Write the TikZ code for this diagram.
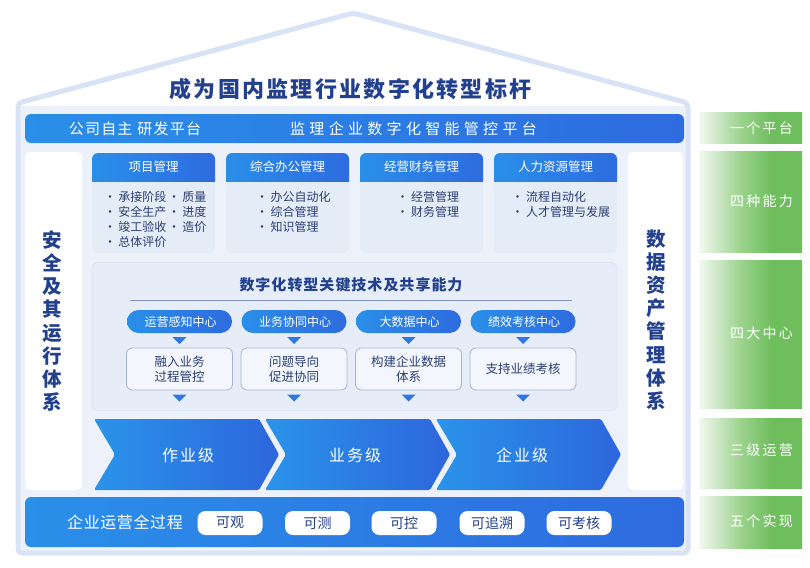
\documentclass[tikz,border=0pt]{standalone}
\usepackage{fontspec}
\setmainfont{Noto Sans CJK SC}
\usetikzlibrary{calc}
\definecolor{navy}{HTML}{22408E}
\definecolor{itemc}{HTML}{2C3E73}
\definecolor{bL}{HTML}{2A8FE9}
\definecolor{bR}{HTML}{2E6BDF}
\definecolor{chL}{HTML}{2A93EA}
\definecolor{chR}{HTML}{2D66DC}
\definecolor{outl}{HTML}{D8E4F5}
\definecolor{bodybg}{HTML}{EDF2FA}
\definecolor{panelbg}{HTML}{E6EDF8}
\definecolor{panelln}{HTML}{DCE5F3}
\definecolor{cardbg}{HTML}{E4ECF8}
\definecolor{boxbg}{HTML}{F3F7FD}
\definecolor{boxln}{HTML}{A3B3CF}
\definecolor{tric}{HTML}{2F78E3}
\definecolor{sepc}{HTML}{7F93C0}
\definecolor{gA}{HTML}{F2F9F0}
\definecolor{gB}{HTML}{9DD38F}
\definecolor{gC}{HTML}{6FBE5E}
\pgfdeclarehorizontalshading{greenfade}{100bp}{color(0bp)=(gA); color(25bp)=(gA); color(45bp)=(gB); color(60bp)=(gC); color(100bp)=(gC)}
\makeatletter
\newcommand\lspc[2]{\def\lspc@sep{\kern#1}\lspc@go#2\relax}
\def\lspc@go#1{#1\lspc@next}
\def\lspc@next#1{\ifx\relax#1\else\lspc@sep#1\expandafter\lspc@next\fi}
\makeatother
\newcommand\fsz[1]{\fontsize{#1}{#1}\selectfont}
\tikzset{
  bluebar/.style={rounded corners=6pt, left color=bL, right color=bR, draw=none},
  wtxt/.style={text=white},
  ntxt/.style={text=navy},
  itm/.style={text=itemc, font=\fsz{12}, anchor=west},
  hdtxt/.style={text=white, font=\fsz{12.5}},
  whitepanel/.style={fill=white, rounded corners=5pt},
  vtxt/.style={text=navy, align=center, font=\fontsize{19.5}{23.1}\selectfont\bfseries},
  pillc/.style={left color=bL, right color=bR, rounded corners=11.5pt},
  cbox/.style={fill=boxbg, draw=boxln, line width=0.8pt, rounded corners=6pt},
  tri/.style={fill=tric},
  chev/.style={left color=chL, right color=chR, rounded corners=1.5pt},
  wpill/.style={fill=white, rounded corners=8pt, text=navy, font=\fsz{14}},
  gbox/.style={shading=greenfade, minimum width=103pt},
}
\newcommand\mkcard[3]{%
  \node[fill=cardbg, rounded corners=6pt, minimum width=123pt, minimum height=100pt] (#2) at (#1+61.5,203) {};
  \begin{scope}
    \clip[rounded corners=6pt] (#1,153) rectangle ++(123,100);
    \path[left color=bL, right color=bR] (#1,153) rectangle ++(123,28);
  \end{scope}
  \node[hdtxt] (#2h) at (#1+61.5,167) {#3};
}
\begin{document}
\begin{tikzpicture}[x=1pt,y=-1pt, every node/.style={inner sep=0pt, outer sep=0pt}]
\useasboundingbox (0,0) rectangle (810,567);
\fill[white] (0,0) rectangle (810,567);
% house
\fill[white] (18,553) -- (18,103) -- (353,13) -- (688,103) -- (688,553) -- cycle;
\fill[bodybg] (20,106) rectangle (686,551);
\draw[outl, line width=5pt, line join=round, rounded corners=4pt] (18,553) -- (18,103) -- (353,13) -- (688,103) -- (688,553) -- cycle;
\node[ntxt, font=\fsz{22}\bfseries] (title) at (350.5,89) {\lspc{2.3pt}{成为国内监理行业数字化转型标杆}};
% platform bar
\node[bluebar, minimum width=659pt, minimum height=29pt] (plat) at (354.5,128.5) {};
\node[wtxt, font=\fsz{15}] (platL) at (135,128.5) {\lspc{1.2pt}{公司自主}\hspace{5pt}\lspc{1.2pt}{研发平台}};
\node[wtxt, font=\fsz{15}] (platR) at (413.5,128.5) {\lspc{4.3pt}{监理企业数字化智能管控平台}};
% side columns
\node[whitepanel, minimum width=57pt, minimum height=338pt] (leftcol) at (53.5,321) {};
\node[whitepanel, minimum width=55pt, minimum height=338pt] (rightcol) at (655.5,321) {};
\node[vtxt] (leftv) at (52.5,321) {安\\全\\及\\其\\运\\行\\体\\系};
\node[vtxt] (rightv) at (656.5,320) {数\\据\\资\\产\\管\\理\\体\\系};
% cards
\mkcard{92}{card1}{项目管理}
\mkcard{226}{card2}{综合办公管理}
\mkcard{360}{card3}{经营财务管理}
\mkcard{494}{card4}{人力资源管理}
\node[itm] (c1a) at (104,197.3) {•\hspace{2.5pt}承接阶段};
\node[itm] (c1b) at (104,212.3) {•\hspace{2.5pt}安全生产};
\node[itm] (c1c) at (104,226.7) {•\hspace{2.5pt}竣工验收};
\node[itm] (c1d) at (104,241.7) {•\hspace{2.5pt}总体评价};
\node[itm] (c1e) at (168,197.3) {•\hspace{2.5pt}质量};
\node[itm] (c1f) at (168,212.3) {•\hspace{2.5pt}进度};
\node[itm] (c1g) at (168,226.7) {•\hspace{2.5pt}造价};
\node[itm] (c2a) at (256,197.3) {•\hspace{2.5pt}办公自动化};
\node[itm] (c2b) at (256,212.3) {•\hspace{2.5pt}综合管理};
\node[itm] (c2c) at (256,226.7) {•\hspace{2.5pt}知识管理};
\node[itm] (c3a) at (396.5,197.3) {•\hspace{2.5pt}经营管理};
\node[itm] (c3b) at (396.5,212.3) {•\hspace{2.5pt}财务管理};
\node[itm] (c4a) at (511.5,197.3) {•\hspace{2.5pt}流程自动化};
\node[itm] (c4b) at (511.5,212.3) {•\hspace{2.5pt}人才管理与发展};
% core panel
\node[fill=panelbg, draw=panelln, line width=0.8pt, rounded corners=6pt, minimum width=525pt, minimum height=148pt] (core) at (354.5,336.5) {};
\node[ntxt, font=\fsz{15}\bfseries] (coret) at (351,285) {\lspc{1pt}{数字化转型关键技术及共享能力}};
\coordinate (sepL) at (130,300.5);
\coordinate (sepR) at (572,300.5);
\draw[sepc, line width=0.8pt] (sepL) -- (sepR);
\foreach \cx/\id/\pt/\bt in {179.5/1/运营感知中心/{融入业务\\过程管控}, 294/2/业务协同中心/{问题导向\\促进协同}, 408.5/3/大数据中心/{构建企业数据\\体系}, 523/4/绩效考核中心/{支持业绩考核}}{
  \node[pillc, minimum width=105pt, minimum height=23pt] (pill\id) at (\cx,321.5) {};
  \node[wtxt, font=\fsz{12}] (pillt\id) at (\cx+1,321.5) {\pt};
  \fill[tri] (\cx-7,337) -- (\cx+7,337) -- (\cx,344) -- cycle;
  \node[cbox, minimum width=106pt, minimum height=42pt] (box\id) at (\cx,369) {};
  \node[text=itemc, align=center, font=\fontsize{12.5}{14.5}\selectfont] (boxt\id) at (\cx,369) {\bt};
  \fill[tri] (\cx-7,394.5) -- (\cx+7,394.5) -- (\cx,401.5) -- cycle;
}
% chevrons
\foreach \sx in {94,265,436}{
  \path[chev] (\sx,419) -- (\sx+165,419) -- (\sx+185,454.5) -- (\sx+165,490) -- (\sx,490) -- (\sx+21,454.5) -- cycle;
}
\node[wtxt, font=\fsz{16}] (lv1) at (188,455) {\lspc{2pt}{作业级}};
\node[wtxt, font=\fsz{16}] (lv2) at (355,455) {\lspc{2pt}{业务级}};
\node[wtxt, font=\fsz{16}] (lv3) at (522,455) {\lspc{2pt}{企业级}};
% bottom bar
\node[bluebar, minimum width=659pt, minimum height=50pt] (bot) at (354.5,522) {};
\node[wtxt, font=\fsz{16}] (bott) at (125,522) {\lspc{0.6pt}{企业运营全过程}};
\node[wpill, minimum width=65pt, minimum height=24pt] (bp1) at (230,523) {可观};
\node[wpill, minimum width=65pt, minimum height=24pt] (bp2) at (317.5,523) {可测};
\node[wpill, minimum width=65pt, minimum height=24pt] (bp3) at (404,523) {可控};
\node[wpill, minimum width=65pt, minimum height=24pt] (bp4) at (492,523) {可追溯};
\node[wpill, minimum width=65pt, minimum height=24pt] (bp5) at (579,523) {可考核};
% green labels
\node[gbox, minimum height=30pt] (g1) at (750.5,128) {};
\node[gbox, minimum height=101pt] (g2) at (750.5,201.5) {};
\node[gbox, minimum height=148pt] (g3) at (750.5,334) {};
\node[gbox, minimum height=70pt] (g4) at (750.5,453) {};
\node[gbox, minimum height=52pt] (g5) at (750.5,522) {};
\node[wtxt, font=\fsz{14}] (gt1) at (761.5,128) {\lspc{2.3pt}{一个平台}};
\node[wtxt, font=\fsz{14}] (gt2) at (761.5,201.5) {\lspc{2.3pt}{四种能力}};
\node[wtxt, font=\fsz{14}] (gt3) at (761.5,333) {\lspc{2.3pt}{四大中心}};
\node[wtxt, font=\fsz{14}] (gt4) at (761.5,450) {\lspc{2.3pt}{三级运营}};
\node[wtxt, font=\fsz{14}] (gt5) at (761.5,521) {\lspc{2.3pt}{五个实现}};
\end{tikzpicture}
\end{document}
